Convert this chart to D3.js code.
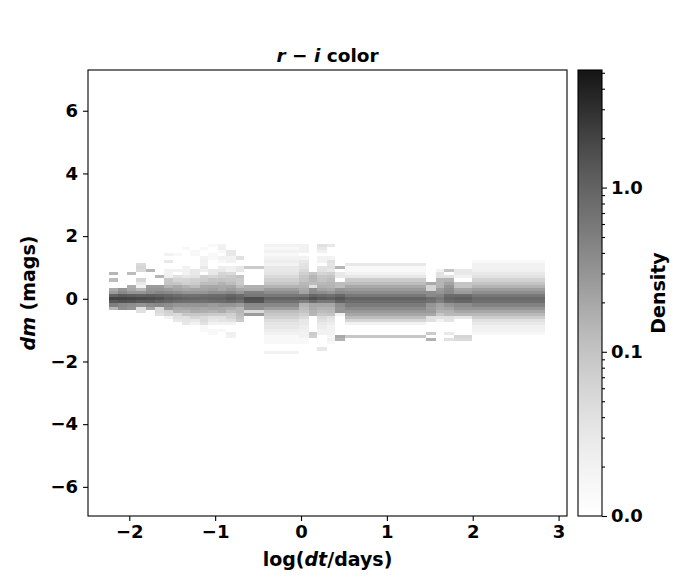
<!DOCTYPE html>
<html>
<head>
<meta charset="utf-8">
<script src="https://cdn.jsdelivr.net/npm/d3@7"></script>
<style>
  body { margin: 0; background: #fff; }
  text { font-family: "DejaVu Sans", sans-serif; font-weight: bold; fill: #000; }
</style>
</head>
<body>
<svg id="chart" width="700" height="580"></svg>
<script>
// bin edges along log(dt/days)
const logDtEdges = [-2.24, -2.13, -2.03, -1.92, -1.81, -1.70, -1.60, -1.49, -1.39, -1.29,
  -1.18, -1.08, -0.97, -0.87, -0.76, -0.66, -0.43, -0.02, 0.09, 0.19,
  0.30, 0.40, 0.51, 1.46, 1.57, 1.67, 1.78, 1.99, 2.84];

// dm bin centres (mags), top to bottom
const dmCenters = [1.8, 1.7, 1.6, 1.5, 1.4, 1.3, 1.2, 1.1, 1.0, 0.9,
  0.8, 0.7, 0.6, 0.5, 0.4, 0.3, 0.2, 0.1, 0,
  -0.1, -0.2, -0.3, -0.4, -0.5, -0.6, -0.7, -0.8,
  -0.9, -1.0, -1.1, -1.2, -1.3, -1.4, -1.5, -1.6, -1.7, -1.8];

// density per dt column (one row per column, values follow dmCenters)
const density = [
  [0,0,0,0,0,0,0,0,0,0, 0.14,0,0.12,0,0,0.19,0.26,1.0, 2.0, 1.3,0.5,0.14,0,0,0,0,0, 0,0,0,0,0,0,0,0,0,0],
  [0,0,0,0,0,0,0,0,0,0, 0,0,0,0,0,0.3,0.4,1.2, 2.0, 1.5,0.4,0.35,0,0,0,0,0, 0,0,0,0,0,0,0,0,0,0],
  [0,0,0,0,0,0,0,0,0,0, 0.12,0,0,0,0.18,0.2,0.3,1.1, 1.9, 1.4,0.35,0.3,0,0,0,0,0, 0,0,0,0,0,0,0,0,0,0],
  [0,0,0,0,0,0,0,0.05,0.06,0.05, 0,0,0.06,0.03,0.02,0.14,0.3,1.0, 1.8, 1.2,0.3,0.04,0.04,0,0,0,0, 0,0,0,0,0,0,0,0,0,0],
  [0,0,0,0,0,0,0,0,0,0.14, 0,0,0,0,0.26,0.3,0.37,1.1, 1.7, 1.2,0.37,0.2,0,0,0,0,0, 0,0,0,0,0,0,0,0,0,0],
  [0,0,0,0,0,0,0,0,0,0, 0,0.14,0,0,0.26,0.3,0.45,1.0, 1.6, 1.0,0.4,0.05,0.05,0.04,0,0,0, 0,0,0,0,0,0,0,0,0,0],
  [0,0,0,0,0.02,0,0.03,0,0,0.02, 0.02,0.022,0.09,0.1,0.15,0.26,0.4,0.9, 1.2, 0.9,0.35,0.26,0.07,0.06,0.02,0,0, 0,0,0,0,0,0,0,0,0,0],
  [0,0,0,0,0.015,0,0,0,0,0.02, 0,0.04,0.06,0.09,0.19,0.22,0.35,0.8, 1.1, 0.8,0.3,0.19,0.15,0.05,0.04,0.03,0, 0,0,0,0,0,0,0,0,0,0],
  [0,0,0.015,0,0,0,0,0,0.02,0.02, 0.02,0.03,0.06,0.07,0.15,0.2,0.3,0.7, 1.0, 0.75,0.3,0.2,0.14,0.09,0.04,0.035,0.03, 0,0,0,0,0,0,0,0,0,0],
  [0,0,0,0.015,0.015,0,0,0,0,0.03, 0.03,0.035,0.07,0.08,0.12,0.22,0.3,0.7, 0.95, 0.75,0.3,0.22,0.18,0.09,0.06,0.03,0.02, 0,0,0,0,0,0,0,0,0,0],
  [0,0,0.015,0,0,0.02,0.022,0.02,0.03,0.022, 0,0.07,0.08,0.12,0.19,0.22,0.3,0.75, 0.9, 0.7,0.3,0.2,0.17,0.09,0.05,0.05,0.04, 0.015,0.015,0,0,0,0,0,0,0,0],
  [0,0.015,0,0,0.015,0.015,0,0,0,0.03, 0.03,0.06,0.1,0.12,0.2,0.24,0.35,0.8, 1.0, 0.8,0.26,0.22,0.15,0.08,0.04,0.03,0.02, 0,0.015,0.015,0,0,0,0,0,0,0],
  [0,0.02,0.022,0.015,0,0.02,0.015,0,0.025,0.03, 0.06,0.07,0.1,0.15,0.19,0.2,0.35,0.8, 1.0, 0.8,0.3,0.2,0.18,0.08,0.04,0.035,0.02, 0,0.015,0,0,0,0,0,0,0,0],
  [0,0,0,0.03,0.03,0.02,0.02,0,0.022,0.02, 0.05,0.08,0.09,0.12,0.2,0.25,0.4,0.95, 1.25, 0.9,0.3,0.18,0.12,0.07,0.06,0.04,0.02, 0,0,0.022,0.02,0,0,0,0,0,0],
  [0,0,0,0,0,0.04,0,0,0.03,0.03, 0,0.1,0.08,0.08,0.12,0.2,0.3,0.8, 1.0, 0.75,0.25,0.14,0.14,0.12,0.1,0.08,0, 0,0,0,0,0,0,0,0,0,0],
  [0,0,0,0,0,0,0,0,0.08,0, 0,0,0,0,0.16,0.18,0.5,0.6, 1.6, 1.4,0.4,0.35,0.05,0.26,0,0,0, 0,0,0,0,0,0,0,0,0,0],
  [0,0.02,0.015,0.02,0.015,0.02,0.025,0.02,0.03,0.03, 0.035,0.05,0.07,0.09,0.15,0.25,0.37,0.6, 1.0, 0.7,0.4,0.25,0.12,0.09,0.07,0.045,0.035, 0.03,0.025,0.02,0.015,0.015,0.015,0,0,0.02,0],
  [0,0.02,0.02,0.02,0,0.02,0.03,0.035,0.04,0.05, 0.07,0.09,0.1,0.13,0.15,0.19,0.22,0.6, 1.1, 0.5,0.15,0.12,0.1,0.07,0.05,0.03,0.03, 0.025,0.022,0.02,0.02,0.015,0.015,0,0,0,0],
  [0,0,0,0,0,0,0,0,0,0, 0.1,0.14,0.14,0.12,0.04,0.35,0.4,0.9, 1.5, 0.8,0.2,0.18,0.15,0.14,0,0,0, 0,0,0.08,0.07,0,0,0,0,0,0],
  [0,0.04,0.03,0.02,0,0.02,0.02,0,0.035,0.04, 0.06,0.09,0.1,0.13,0.16,0.22,0.35,0.8, 1.2, 0.6,0.2,0.15,0.12,0.09,0.05,0.04,0.03, 0.025,0.02,0.02,0,0,0,0,0.03,0,0],
  [0,0.03,0,0,0,0.02,0.04,0.035,0.04,0.03, 0.07,0.1,0.12,0.14,0.15,0.2,0.3,0.7, 1.1, 0.6,0.2,0.15,0.13,0.1,0.04,0.03,0.025, 0.02,0.02,0.02,0.015,0.02,0.015,0,0,0,0],
  [0,0,0,0,0,0,0,0,0.14,0, 0.03,0.03,0,0.12,0.12,0.3,0.4,0.9, 1.4, 1.0,0.35,0.3,0.3,0.02,0,0,0, 0,0,0,0.19,0.15,0,0,0,0,0],
  [0,0,0,0,0,0,0,0.03,0.015,0.015, 0.02,0.03,0.08,0.12,0.19,0.27,0.37,0.6, 1.0, 0.8,0.55,0.4,0.28,0.2,0.12,0.06,0.02, 0,0,0,0.09,0,0,0,0,0,0],
  [0,0,0,0,0,0,0,0,0,0, 0,0,0,0.19,0.06,0.06,0.37,0.4, 0.8, 0.7,0.3,0.26,0.26,0.2,0.04,0.04,0, 0,0,0.08,0,0.16,0,0,0,0,0],
  [0,0,0,0,0,0,0,0,0,0.02, 0.04,0.04,0.14,0.14,0.15,0.26,0.3,0.45, 0.6, 0.5,0.22,0.19,0.15,0.09,0.04,0.02,0, 0,0,0,0,0,0,0,0,0,0],
  [0,0,0,0,0,0,0,0,0,0.1, 0,0.04,0.15,0.22,0.3,0.37,0.4,0.8, 1.0, 0.8,0.3,0.22,0.15,0.13,0.04,0.035,0, 0,0,0.03,0,0.04,0,0,0,0,0],
  [0,0,0,0,0,0,0,0,0,0.03, 0.03,0.02,0,0.1,0.1,0.22,0.26,0.8, 1.1, 0.9,0.37,0.3,0.2,0.13,0.03,0,0, 0,0,0,0.06,0.05,0,0,0,0,0],
  [0,0,0,0,0,0,0.015,0.02,0.02,0.022, 0.03,0.038,0.065,0.1,0.15,0.25,0.35,0.6, 0.85, 0.75,0.48,0.3,0.2,0.13,0.077,0.04,0.03, 0.022,0.02,0.015,0,0,0,0,0,0,0]
];

const xTicks = [-2, -1, 0, 1, 2, 3];
const yTicks = [-6, -4, -2, 0, 2, 4, 6];
const cbarTicks = [0.01, 0.1, 1];
const cbarLabels = ['0.0', '0.1', '1.0'];
const cbarMinor = [0.02, 0.03, 0.04, 0.05, 0.06, 0.07, 0.08, 0.09,
  0.2, 0.3, 0.4, 0.5, 0.6, 0.7, 0.8, 0.9, 2, 3, 4, 5];

const binHalf = 0.05;
const plot = {left: 88, right: 567, top: 70, bottom: 516};
const cbar = {left: 578, right: 602};

const svg = d3.select('#chart');

const x = d3.scaleLinear().domain([-2.481, 3.098]).range([plot.left, plot.right]);
const y = d3.scaleLinear().domain([-6.93, 7.30]).range([plot.bottom, plot.top]);
const norm = d3.scaleLog().domain([0.01, 5.2]).range([0, 0.93]).clamp(true);
const color = d => d3.interpolateGreys(norm(d));

// flatten matrix into cells
const cells = [];
density.forEach((col, i) => {
  col.forEach((v, j) => {
    if (v > 0) cells.push({x0: logDtEdges[i], x1: logDtEdges[i + 1], dm: dmCenters[j], v});
  });
});

svg.append('g')
  .attr('shape-rendering', 'crispEdges')
  .selectAll('rect').data(cells)
  .enter().append('rect')
  .attr('x', d => x(d.x0))
  .attr('width', d => x(d.x1) - x(d.x0))
  .attr('y', d => y(d.dm + binHalf))
  .attr('height', d => y(d.dm - binHalf) - y(d.dm + binHalf))
  .attr('fill', d => color(d.v));

// frame
svg.append('rect')
  .attr('x', plot.left).attr('y', plot.top)
  .attr('width', plot.right - plot.left).attr('height', plot.bottom - plot.top)
  .attr('fill', 'none').attr('stroke', '#000').attr('stroke-width', 1.1);

const xAxis = svg.append('g')
  .attr('transform', `translate(0,${plot.bottom})`)
  .call(d3.axisBottom(x).tickValues(xTicks).tickSize(5).tickPadding(4).tickFormat(d3.format('d')));
const yAxis = svg.append('g')
  .attr('transform', `translate(${plot.left},0)`)
  .call(d3.axisLeft(y).tickValues(yTicks).tickSize(5).tickPadding(5).tickFormat(d3.format('d')));
[xAxis, yAxis].forEach(a => {
  a.select('.domain').remove();
  a.selectAll('line').attr('stroke', '#000').attr('stroke-width', 1.1);
  a.selectAll('text').style('font-size', '18px').attr('font-family', null);
});

// colour bar
const cb = d3.scaleLog().domain([0.01, 5.2]).range([plot.bottom, plot.top]);
svg.append('g')
  .attr('shape-rendering', 'crispEdges')
  .selectAll('rect').data(d3.range(plot.top, plot.bottom))
  .enter().append('rect')
  .attr('x', cbar.left).attr('width', cbar.right - cbar.left)
  .attr('y', d => d).attr('height', 1)
  .attr('fill', d => color(cb.invert(d + 0.5)));
svg.append('rect')
  .attr('x', cbar.left).attr('y', plot.top)
  .attr('width', cbar.right - cbar.left).attr('height', plot.bottom - plot.top)
  .attr('fill', 'none').attr('stroke', '#000').attr('stroke-width', 1.1);

const cbMinor = svg.append('g')
  .attr('transform', `translate(${cbar.right},0)`)
  .call(d3.axisRight(cb).tickValues(cbarMinor).tickSize(3).tickFormat(''));
const cbMajor = svg.append('g')
  .attr('transform', `translate(${cbar.right},0)`)
  .call(d3.axisRight(cb).tickValues(cbarTicks).tickSize(5).tickPadding(4)
    .tickFormat((d, i) => cbarLabels[i]));
[cbMinor, cbMajor].forEach(a => {
  a.select('.domain').remove();
  a.selectAll('line').attr('stroke', '#000').attr('stroke-width', 1.1);
  a.selectAll('text').style('font-size', '18px').attr('font-family', null);
});

// labels
svg.append('text')
  .attr('x', (plot.left + plot.right) / 2).attr('y', 61.5)
  .attr('text-anchor', 'middle').style('font-size', '18.5px')
  .html('<tspan font-style="italic">r</tspan> − <tspan font-style="italic">i</tspan> color');

svg.append('text')
  .attr('x', (plot.left + plot.right) / 2).attr('y', 566)
  .attr('text-anchor', 'middle').style('font-size', '19px')
  .html('log(<tspan font-style="italic">dt</tspan>/days)');

svg.append('text')
  .attr('transform', `translate(35,${(plot.top + plot.bottom) / 2}) rotate(-90)`)
  .attr('text-anchor', 'middle').style('font-size', '19px')
  .html('<tspan font-style="italic">dm</tspan> (mags)');

svg.append('text')
  .attr('transform', `translate(665,${(plot.top + plot.bottom) / 2}) rotate(-90)`)
  .attr('text-anchor', 'middle').style('font-size', '19px')
  .text('Density');
</script>
</body>
</html>
